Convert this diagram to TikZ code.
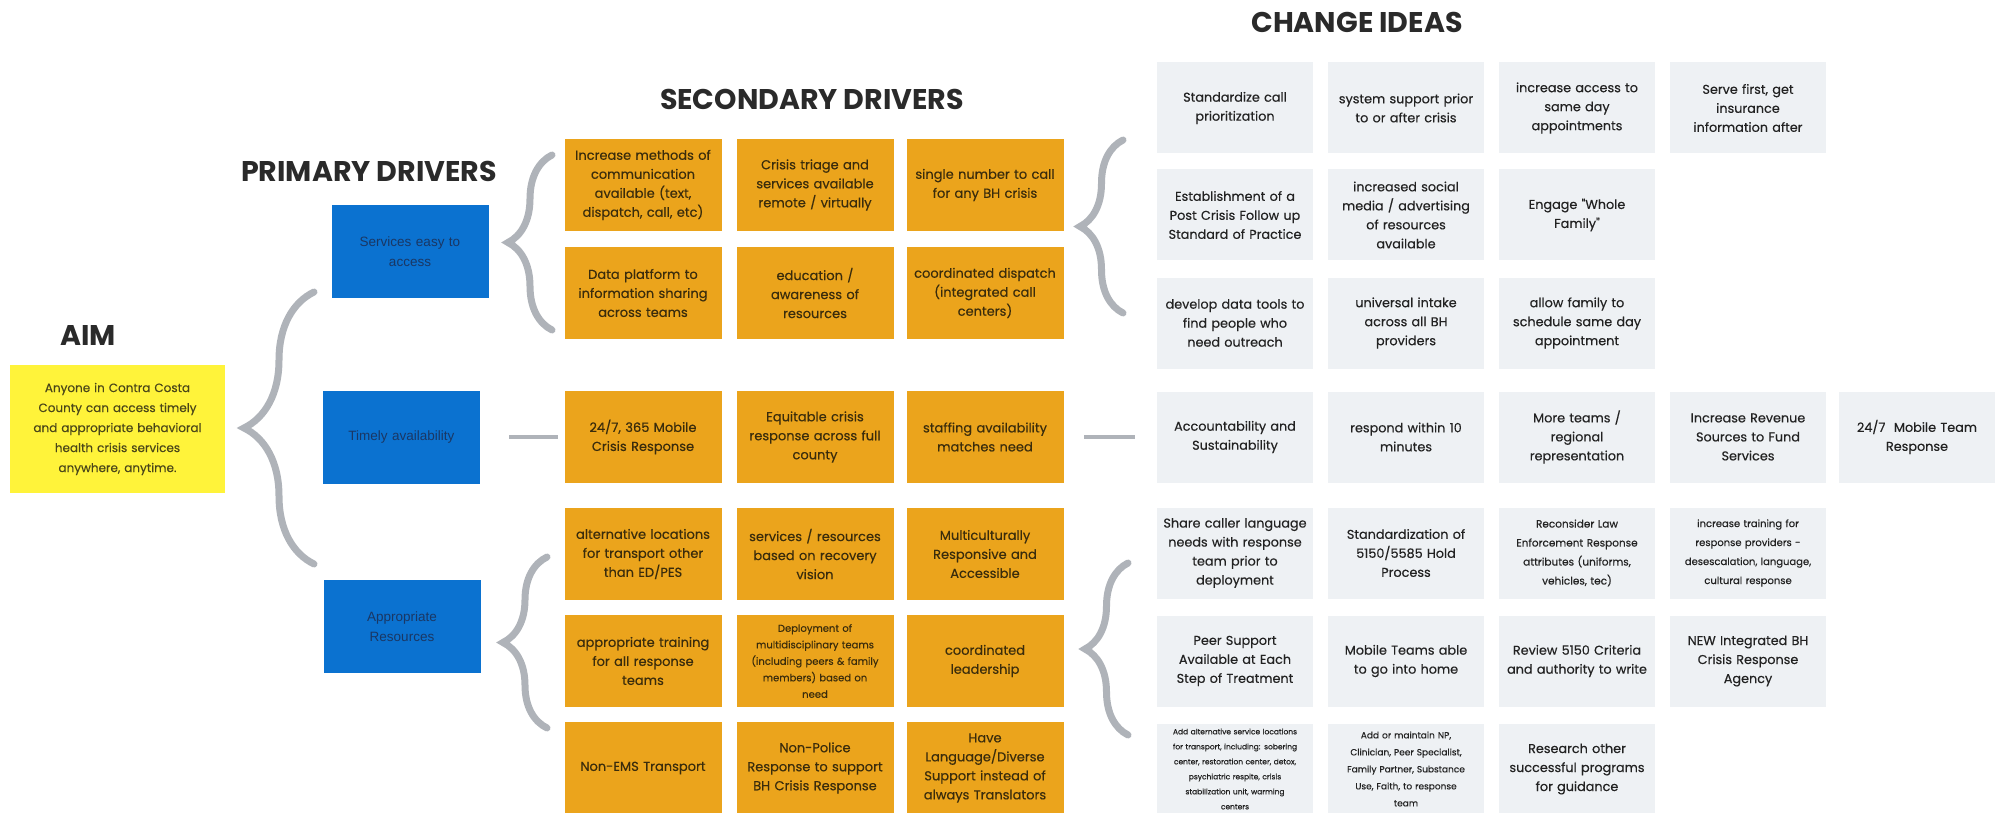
\documentclass[tikz,border=0pt]{standalone}
\usepackage{fontspec}
\setmainfont{Poppins}
\newfontfamily\boxfont{Poppins}[FakeBold=0.35]
\newfontfamily\barfont{Liberation Sans}
\usetikzlibrary{decorations.pathreplacing}

\definecolor{aimyellow}{HTML}{FFF33A}
\definecolor{aimtext}{HTML}{4A4619}
\definecolor{pdblue}{HTML}{0B72D0}
\definecolor{pdtext}{HTML}{1A3764}
\definecolor{sdorange}{HTML}{EBA41C}
\definecolor{sdtext}{HTML}{3A2C0C}
\definecolor{cigrey}{HTML}{EEF1F4}
\definecolor{citext}{HTML}{222222}
\definecolor{bracegrey}{HTML}{AFB3B9}
\definecolor{headtext}{HTML}{2A2A2A}

\begin{document}
\begin{tikzpicture}[x=1pt, y=-1pt,
    heading/.style={font=\fontsize{28.5}{28.5}\selectfont\bfseries, text=headtext, inner sep=0pt},
    aimbox/.style={fill=aimyellow, text=aimtext, minimum width=215pt, minimum height=128pt,
        text width=208pt, align=center, inner sep=0pt, font=\boxfont\fontsize{12}{20}\selectfont},
    pdbox/.style={fill=pdblue, text=pdtext, minimum width=157pt, minimum height=93pt,
        text width=150pt, align=center, inner sep=0pt, font=\barfont\fontsize{13.5}{20}\selectfont},
    sdbox/.style={fill=sdorange, text=sdtext, minimum width=157pt, minimum height=92pt,
        text width=154pt, align=center, inner sep=0pt, font=\boxfont\fontsize{13}{19}\selectfont},
    cibox/.style={fill=cigrey, text=citext, minimum width=156pt, minimum height=91pt,
        text width=154pt, align=center, inner sep=0pt, font=\boxfont\fontsize{12.8}{19}\selectfont},
    bracket/.style={draw=bracegrey, line width=7pt, line cap=round, decorate,
        decoration={brace, amplitude=#1}},
    link/.style={draw=bracegrey, line width=4pt}]

    \useasboundingbox (0,0) rectangle (2011,813);

    % Aim
    \node[heading] (aimtitle) at (88,335) {AIM};
    \node[aimbox] (aim) at (117.5,429) {Anyone in Contra Costa\\County can access timely\\and appropriate behavioral\\health crisis services\\anywhere, anytime.};

    % Primary drivers
    \node[heading] (pdtitle) at (369,171) {PRIMARY DRIVERS};
    \node[pdbox] (pd1) at (410,251.5) {Services easy to\\access};
    \node[pdbox] (pd2) at (401.5,437) {Timely availability};
    \node[pdbox] (pd3) at (402,626.5) {Appropriate\\Resources};

    % Secondary drivers
    \node[heading] (sdtitle) at (812,99) {SECONDARY DRIVERS};
    \node[sdbox] (sd11) at (643,185) {Increase methods of\\communication\\available (text,\\dispatch, call, etc)};
    \node[sdbox] (sd12) at (815,185) {Crisis triage and\\services available\\remote / virtually};
    \node[sdbox] (sd13) at (985,185) {single number to call\\for any BH crisis};
    \node[sdbox] (sd21) at (643,293) {Data platform to\\information sharing\\across teams};
    \node[sdbox] (sd22) at (815,293) {education /\\awareness of\\resources};
    \node[sdbox] (sd23) at (985,293) {coordinated dispatch\\(integrated call\\centers)};
    \node[sdbox] (sd31) at (643,437) {24/7, 365 Mobile\\Crisis Response};
    \node[sdbox] (sd32) at (815,437) {Equitable crisis\\response across full\\county};
    \node[sdbox] (sd33) at (985,437) {staffing availability\\matches need};
    \node[sdbox] (sd41) at (643,554) {alternative locations\\for transport other\\than ED/PES};
    \node[sdbox] (sd42) at (815,554) {services / resources\\based on recovery\\vision};
    \node[sdbox] (sd43) at (985,554) {Multiculturally\\Responsive and\\Accessible};
    \node[sdbox] (sd51) at (643,661) {appropriate training\\for all response\\teams};
    \node[sdbox, font=\boxfont\fontsize{10}{16.5}\selectfont] (sd52) at (815,661) {Deployment of\\multidisciplinary teams\\(including peers \& family\\members) based on\\need};
    \node[sdbox] (sd53) at (985,661) {coordinated\\leadership};
    \node[sdbox] (sd61) at (643,768) {Non-EMS Transport};
    \node[sdbox] (sd62) at (815,768) {Non-Police\\Response to support\\BH Crisis Response};
    \node[sdbox] (sd63) at (985,768) {Have\\Language/Diverse\\Support instead of\\always Translators};

    % Change ideas
    \node[heading] (cititle) at (1357,22) {CHANGE IDEAS};
    \node[cibox] (ci11) at (1235,108) {Standardize call\\prioritization};
    \node[cibox] (ci12) at (1406,108) {system support prior\\to or after crisis};
    \node[cibox] (ci13) at (1577,108) {increase access to\\same day\\appointments};
    \node[cibox] (ci14) at (1748,108) {Serve first, get\\insurance\\information after};
    \node[cibox] (ci21) at (1235,215) {Establishment of a\\Post Crisis Follow up\\Standard of Practice};
    \node[cibox] (ci22) at (1406,215) {increased social\\media / advertising\\of resources\\available};
    \node[cibox] (ci23) at (1577,215) {Engage "Whole\\Family"};
    \node[cibox] (ci31) at (1235,323) {develop data tools to\\find people who\\need outreach};
    \node[cibox] (ci32) at (1406,323) {universal intake\\across all BH\\providers};
    \node[cibox] (ci33) at (1577,323) {allow family to\\schedule same day\\appointment};
    \node[cibox] (ci41) at (1235,437) {Accountability and\\Sustainability};
    \node[cibox] (ci42) at (1406,437) {respond within 10\\minutes};
    \node[cibox] (ci43) at (1577,437) {More teams /\\regional\\representation};
    \node[cibox] (ci44) at (1748,437) {Increase Revenue\\Sources to Fund\\Services};
    \node[cibox] (ci45) at (1917,437) {24/7\ \ Mobile Team\\Response};
    \node[cibox] (ci51) at (1235,553) {Share caller language\\needs with response\\team prior to\\deployment};
    \node[cibox] (ci52) at (1406,553) {Standardization of\\5150/5585 Hold\\Process};
    \node[cibox, font=\boxfont\fontsize{10.5}{19}\selectfont] (ci53) at (1577,553) {Reconsider Law\\Enforcement Response\\attributes (uniforms,\\vehicles, tec)};
    \node[cibox, font=\boxfont\fontsize{10}{19}\selectfont] (ci54) at (1748,553) {increase training for\\response providers -\\desescalation, language,\\cultural response};
    \node[cibox] (ci61) at (1235,661) {Peer Support\\Available at Each\\Step of Treatment};
    \node[cibox] (ci62) at (1406,661) {Mobile Teams able\\to go into home};
    \node[cibox] (ci63) at (1577,661) {Review 5150 Criteria\\and authority to write};
    \node[cibox] (ci64) at (1748,661) {NEW Integrated BH\\Crisis Response\\Agency};
    \node[cibox, font=\boxfont\fontsize{7.5}{15}\selectfont] (ci71) at (1235,769) {Add alternative service locations\\for transport, including: sobering\\center, restoration center, detox,\\psychiatric respite, crisis\\stabilization unit, warming\\centers};
    \node[cibox, font=\boxfont\fontsize{9}{17}\selectfont] (ci72) at (1406,769) {Add or maintain NP,\\Clinician, Peer Specialist,\\Family Partner, Substance\\Use, Faith, to response\\team};
    \node[cibox] (ci73) at (1577,769) {Research other\\successful programs\\for guidance};

    % Braces
    \draw[bracket=70] (314,564) -- (314,292);
    \draw[bracket=44] (552,330) -- (552,155);
    \draw[bracket=44] (547,728) -- (547,557);
    \draw[bracket=43] (1123,313) -- (1123,140);
    \draw[bracket=43] (1128,735) -- (1128,563);

    % Links
    \draw[link, shorten <=29pt, shorten >=6.5pt] (pd2) -- (sd31);
    \draw[link, shorten <=20.5pt, shorten >=22pt] (sd33) -- (ci41);
\end{tikzpicture}
\end{document}
